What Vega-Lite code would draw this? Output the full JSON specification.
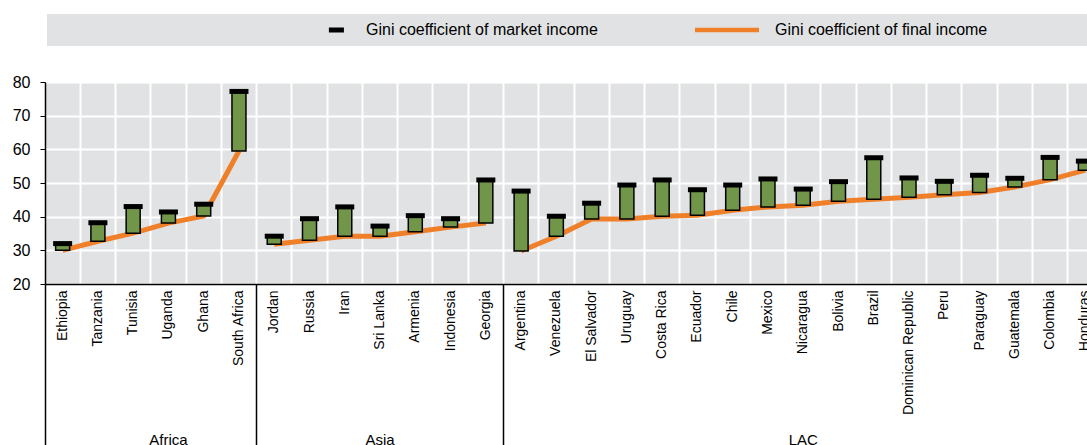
{
  "$schema": "https://vega.github.io/schema/vega-lite/v6.json",
  "autosize": "none",
  "width": 1042,
  "height": 202,
  "padding": {"left": 45, "top": 82, "right": 0, "bottom": 161},
  "background": "white",
  "config": {
    "view": {"fill": "#e1e2e4", "stroke": null},
    "font": "Liberation Sans",
    "axis": {"labelColor": "#000000", "titleColor": "#000000"}
  },
  "data": {
    "values": [
      {"country": "Ethiopia", "region": "Africa", "final": 30.0, "market": 32.0},
      {"country": "Tanzania", "region": "Africa", "final": 32.7, "market": 38.2},
      {"country": "Tunisia", "region": "Africa", "final": 35.1, "market": 43.0},
      {"country": "Uganda", "region": "Africa", "final": 38.1, "market": 41.4},
      {"country": "Ghana", "region": "Africa", "final": 40.2, "market": 43.7},
      {"country": "South Africa", "region": "Africa", "final": 59.5, "market": 77.2},
      {"country": "Jordan", "region": "Asia", "final": 31.8, "market": 34.2},
      {"country": "Russia", "region": "Asia", "final": 33.0, "market": 39.4},
      {"country": "Iran", "region": "Asia", "final": 34.2, "market": 42.9},
      {"country": "Sri Lanka", "region": "Asia", "final": 34.2, "market": 37.2},
      {"country": "Armenia", "region": "Asia", "final": 35.5, "market": 40.3},
      {"country": "Indonesia", "region": "Asia", "final": 36.9, "market": 39.4},
      {"country": "Georgia", "region": "Asia", "final": 38.1, "market": 50.9},
      {"country": "Argentina", "region": "LAC", "final": 29.8, "market": 47.6},
      {"country": "Venezuela", "region": "LAC", "final": 34.2, "market": 40.1},
      {"country": "El Salvador", "region": "LAC", "final": 39.3, "market": 44.0},
      {"country": "Uruguay", "region": "LAC", "final": 39.3, "market": 49.4},
      {"country": "Costa Rica", "region": "LAC", "final": 40.1, "market": 50.9},
      {"country": "Ecuador", "region": "LAC", "final": 40.4, "market": 48.0},
      {"country": "Chile", "region": "LAC", "final": 41.9, "market": 49.4},
      {"country": "Mexico", "region": "LAC", "final": 42.9, "market": 51.2},
      {"country": "Nicaragua", "region": "LAC", "final": 43.4, "market": 48.2},
      {"country": "Bolivia", "region": "LAC", "final": 44.6, "market": 50.4},
      {"country": "Brazil", "region": "LAC", "final": 45.2, "market": 57.5},
      {"country": "Dominican Republic", "region": "LAC", "final": 45.8, "market": 51.5},
      {"country": "Peru", "region": "LAC", "final": 46.5, "market": 50.5},
      {"country": "Paraguay", "region": "LAC", "final": 47.2, "market": 52.3},
      {"country": "Guatemala", "region": "LAC", "final": 48.8, "market": 51.4},
      {"country": "Colombia", "region": "LAC", "final": 51.0, "market": 57.6},
      {"country": "Honduras", "region": "LAC", "final": 53.8, "market": 56.5}
    ]
  },
  "layer": [
    {
      "mark": {"type": "line", "strokeWidth": 5, "opacity": 1},
      "encoding": {
        "x": {
          "field": "country", "type": "nominal",
          "scale": {
            "domain": ["Ethiopia", "Tanzania", "Tunisia", "Uganda", "Ghana", "South Africa", "Jordan", "Russia", "Iran", "Sri Lanka", "Armenia", "Indonesia", "Georgia", "Argentina", "Venezuela", "El Salvador", "Uruguay", "Costa Rica", "Ecuador", "Chile", "Mexico", "Nicaragua", "Bolivia", "Brazil", "Dominican Republic", "Peru", "Paraguay", "Guatemala", "Colombia", "Honduras"],
            "range": [0, 1058],
            "paddingInner": 0,
            "paddingOuter": 0
          },
          "axis": {
            "orient": "bottom",
            "title": null, "labels": false, "ticks": false, "domain": false,
            "grid": true, "gridColor": "#ffffff", "gridWidth": 2, "bandPosition": 0,
            "values": ["Tanzania", "Tunisia", "Uganda", "Ghana", "South Africa", "Jordan", "Russia", "Iran", "Sri Lanka", "Armenia", "Indonesia", "Georgia", "Argentina", "Venezuela", "El Salvador", "Uruguay", "Costa Rica", "Ecuador", "Chile", "Mexico", "Nicaragua", "Bolivia", "Brazil", "Dominican Republic", "Peru", "Paraguay", "Guatemala", "Colombia", "Honduras"]
          }
        },
        "y": {
          "field": "final", "type": "quantitative",
          "scale": {"domain": [20, 80], "nice": false, "zero": false},
          "axis": {
            "orient": "left",
            "title": null, "values": [20, 30, 40, 50, 60, 70, 80], "tickCount": 7,
            "grid": true, "gridColor": "#ffffff", "gridWidth": 2,
            "domainColor": "#000000", "domainWidth": 1.5,
            "tickColor": "#000000", "tickSize": 5, "tickWidth": 1,
            "labelFontSize": 16, "labelPadding": 10, "labelOverlap": false
          }
        },
        "detail": {"field": "region"},
        "color": {"datum": "Gini coefficient of final income", "type": "nominal"}
      }
    },
    {
      "mark": {"type": "bar", "fill": "#71964a", "stroke": "#000000", "strokeWidth": 1.5, "width": 14, "opacity": 1},
      "encoding": {
        "x": {
          "field": "country", "type": "nominal",
          "axis": {
            "orient": "bottom",
            "title": null, "labelAngle": -90, "labelFontSize": 14, "labelPadding": 6,
            "ticks": false, "grid": false, "domain": true, "domainColor": "#000000",
            "domainWidth": 1.5, "labelLimit": 300, "labelOverlap": false, "zindex": 1
          }
        },
        "y": {
          "field": "final", "type": "quantitative",
          "axis": {
            "orient": "left",
            "title": null, "values": [20, 30, 40, 50, 60, 70, 80], "tickCount": 7,
            "grid": true, "gridColor": "#ffffff", "gridWidth": 2,
            "domainColor": "#000000", "domainWidth": 1.5,
            "tickColor": "#000000", "tickSize": 5, "tickWidth": 1,
            "labelFontSize": 16, "labelPadding": 10, "labelOverlap": false
          }
        },
        "y2": {"field": "market"}
      }
    },
    {
      "mark": {"type": "tick", "thickness": 5, "size": 19, "opacity": 1},
      "encoding": {
        "x": {
          "field": "country", "type": "nominal",
          "axis": {
            "orient": "bottom",
            "title": null, "labels": false, "ticks": true, "tickSize": 161,
            "tickColor": "#000000", "tickWidth": 1.5, "domain": false, "grid": false,
            "bandPosition": 0, "values": ["Ethiopia", "Jordan", "Argentina"]
          }
        },
        "y": {
          "field": "market", "type": "quantitative",
          "axis": {
            "orient": "left",
            "title": null, "values": [20, 30, 40, 50, 60, 70, 80], "tickCount": 7,
            "grid": true, "gridColor": "#ffffff", "gridWidth": 2,
            "domainColor": "#000000", "domainWidth": 1.5,
            "tickColor": "#000000", "tickSize": 5, "tickWidth": 1,
            "labelFontSize": 16, "labelPadding": 10, "labelOverlap": false
          }
        },
        "color": {
          "datum": "Gini coefficient of market income", "type": "nominal",
          "scale": {
            "domain": ["Gini coefficient of market income", "Gini coefficient of final income"],
            "range": ["#000000", "#f07f2a"]
          },
          "legend": {
            "orient": "none", "legendX": 2, "legendY": -68,
            "direction": "horizontal", "columns": 2, "columnPadding": 97,
            "title": "\u00a0", "titleOrient": "left", "titlePadding": 232, "titleFontSize": 10,
            "fillColor": "#e1e2e4", "padding": 7, "clipHeight": 18,
            "symbolSize": 4096,
            "symbolType": {"expr": "datum.value === 'Gini coefficient of market income' ? 'M0.34,-0.08H0.81V0.08H0.34Z' : 'M-1,-0.07H1V0.07H-1Z'"},
            "symbolFillColor": {"expr": "datum.value === 'Gini coefficient of market income' ? '#000000' : '#f07f2a'"},
            "symbolStrokeColor": {"expr": "datum.value === 'Gini coefficient of market income' ? '#000000' : '#f07f2a'"},
            "symbolStrokeWidth": 0,
            "symbolOpacity": 1,
            "labelOffset": 16, "labelFontSize": 16, "labelLimit": 1000, "labelColor": "#000000",
            "labelExpr": "datum.label == 'Gini coefficient of final income' ? datum.label + '\u00a0\u00a0\u00a0\u00a0\u00a0\u00a0\u00a0\u00a0\u00a0\u00a0\u00a0\u00a0\u00a0\u00a0\u00a0\u00a0\u00a0\u00a0\u00a0\u00a0\u00a0\u00a0\u00a0\u00a0\u00a0\u00a0\u00a0\u00a0\u200b' : datum.label"
          }
        }
      }
    },
    {
      "transform": [{"filter": "false"}],
      "mark": {"type": "point"},
      "encoding": {
        "x": {
          "field": "country", "type": "nominal",
          "axis": {
            "orient": "bottom",
            "title": null, "values": ["Uganda"], "bandPosition": 0,
            "labelExpr": "'Africa'", "ticks": false, "domain": false, "grid": false,
            "labelPadding": 148, "labelFontSize": 15, "labelAngle": 0, "labelOverlap": false
          }
        }
      }
    },
    {
      "transform": [{"filter": "false"}],
      "mark": {"type": "point"},
      "encoding": {
        "x": {
          "field": "country", "type": "nominal",
          "axis": {
            "orient": "bottom",
            "title": null, "values": ["Sri Lanka", "Nicaragua"],
            "labelExpr": "datum.value == 'Sri Lanka' ? 'Asia' : 'LAC'",
            "ticks": false, "domain": false, "grid": false,
            "labelPadding": 148, "labelFontSize": 15, "labelAngle": 0, "labelOverlap": false
          }
        }
      }
    }
  ],
  "resolve": {"axis": {"x": "independent"}}
}
